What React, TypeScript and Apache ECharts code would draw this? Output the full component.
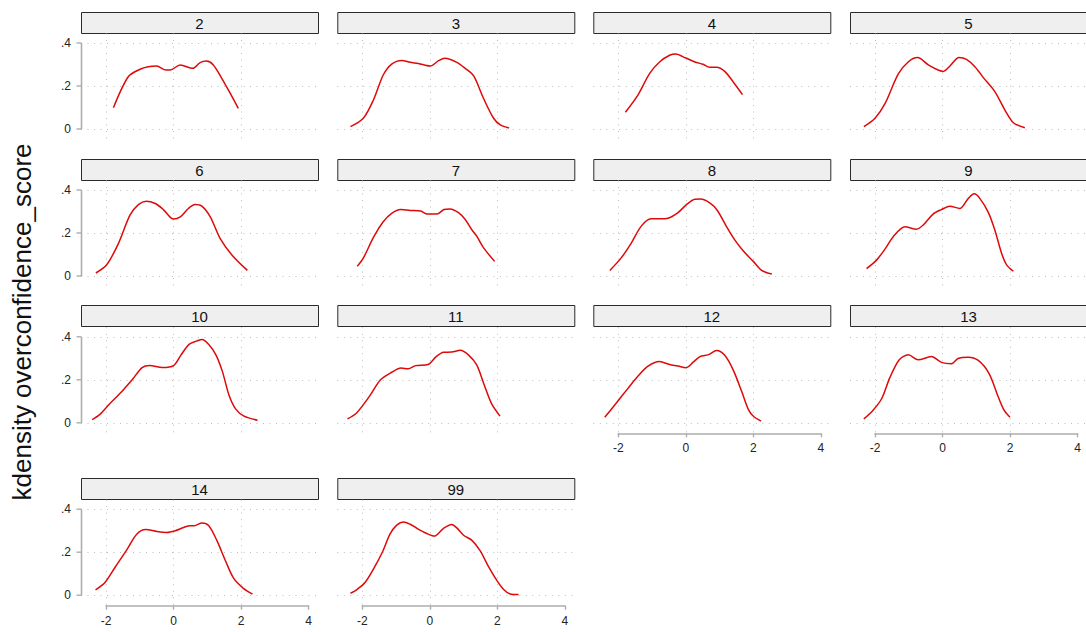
import React, { useEffect, useRef } from "react";
import * as echarts from "echarts";

// Panel labels (by-group values)
const panelLabels = ["2", "3", "4", "5", "6", "7", "8", "9", "10", "11", "12", "13", "14", "99"];

// Axis ticks
const xTicks = [-2, 0, 2, 4];
const yTicks = [0, 0.2, 0.4];

// Kernel density estimates (x = overconfidence_score, y = density)
const p2x = [-1.78, -1.34, -0.99, -0.75, -0.5, -0.22, -0.1, 0.2, 0.57, 0.79, 0.98, 1.18, 1.43, 1.67, 1.92];
const p2y = [0.099, 0.243, 0.278, 0.29, 0.293, 0.274, 0.274, 0.298, 0.282, 0.309, 0.316, 0.298, 0.236, 0.169, 0.096];

const p3x = [-2.35, -1.97, -1.67, -1.38, -1.13, -0.83, -0.58, -0.34, 0.01, 0.26, 0.45, 0.8, 1.05, 1.3, 1.59, 1.89, 2.09, 2.35];
const p3y = [0.011, 0.05, 0.135, 0.251, 0.302, 0.319, 0.31, 0.305, 0.293, 0.318, 0.329, 0.31, 0.282, 0.247, 0.143, 0.05, 0.019, 0.005];

const p4x = [-1.79, -1.42, -1.07, -0.77, -0.48, -0.3, 0.0, 0.27, 0.51, 0.71, 0.91, 1.16, 1.4, 1.68];
const p4y = [0.078, 0.158, 0.259, 0.313, 0.343, 0.349, 0.33, 0.312, 0.301, 0.287, 0.287, 0.267, 0.22, 0.16];

const p5x = [-2.33, -2.0, -1.7, -1.31, -1.01, -0.74, -0.42, -0.18, 0.02, 0.22, 0.49, 0.71, 0.96, 1.21, 1.55, 1.85, 2.1, 2.44];
const p5y = [0.011, 0.05, 0.119, 0.256, 0.313, 0.332, 0.298, 0.278, 0.268, 0.293, 0.333, 0.324, 0.29, 0.239, 0.174, 0.088, 0.029, 0.006];

const p6x = [-2.3, -1.98, -1.63, -1.29, -1.04, -0.81, -0.54, -0.3, 0.0, 0.2, 0.44, 0.64, 0.84, 1.09, 1.38, 1.73, 2.19];
const p6y = [0.014, 0.052, 0.152, 0.283, 0.332, 0.348, 0.337, 0.309, 0.265, 0.275, 0.314, 0.332, 0.325, 0.275, 0.175, 0.098, 0.026];

const p7x = [-2.15, -1.97, -1.67, -1.38, -1.13, -0.86, -0.58, -0.27, -0.07, 0.21, 0.42, 0.6, 0.85, 1.05, 1.25, 1.4, 1.59, 1.92];
const p7y = [0.045, 0.083, 0.18, 0.252, 0.291, 0.309, 0.305, 0.302, 0.288, 0.288, 0.309, 0.312, 0.295, 0.263, 0.214, 0.183, 0.132, 0.068];

const p8x = [-2.25, -1.92, -1.62, -1.32, -1.03, -0.77, -0.53, -0.23, 0.02, 0.27, 0.44, 0.71, 0.93, 1.21, 1.45, 1.7, 2.0, 2.25, 2.55];
const p8y = [0.026, 0.083, 0.152, 0.232, 0.266, 0.266, 0.269, 0.295, 0.332, 0.357, 0.358, 0.34, 0.306, 0.229, 0.168, 0.117, 0.068, 0.026, 0.009];

const p9x = [-2.25, -1.95, -1.7, -1.46, -1.11, -0.77, -0.57, -0.28, -0.03, 0.22, 0.51, 0.76, 0.94, 1.11, 1.35, 1.55, 1.75, 1.9, 2.1];
const p9y = [0.034, 0.075, 0.126, 0.183, 0.229, 0.218, 0.237, 0.288, 0.309, 0.325, 0.314, 0.36, 0.382, 0.36, 0.298, 0.214, 0.106, 0.052, 0.022];

const p10x = [-2.41, -2.19, -1.91, -1.53, -1.2, -0.93, -0.71, -0.33, 0.0, 0.22, 0.46, 0.68, 0.85, 1.04, 1.26, 1.45, 1.64, 1.84, 2.09, 2.49];
const p10y = [0.015, 0.038, 0.085, 0.146, 0.205, 0.257, 0.266, 0.257, 0.266, 0.315, 0.365, 0.38, 0.388, 0.365, 0.315, 0.238, 0.131, 0.065, 0.031, 0.012];

const p11x = [-2.44, -2.17, -1.79, -1.46, -1.13, -0.85, -0.64, -0.42, -0.05, 0.19, 0.41, 0.65, 0.9, 1.15, 1.39, 1.61, 1.83, 2.08];
const p11y = [0.018, 0.046, 0.123, 0.2, 0.235, 0.255, 0.251, 0.266, 0.271, 0.308, 0.328, 0.329, 0.337, 0.315, 0.269, 0.177, 0.089, 0.031];

const p12x = [-2.4, -2.07, -1.72, -1.42, -1.13, -0.78, -0.48, -0.23, 0.0, 0.22, 0.42, 0.67, 0.91, 1.16, 1.41, 1.66, 1.86, 2.01, 2.23];
const p12y = [0.026, 0.09, 0.159, 0.216, 0.262, 0.285, 0.271, 0.264, 0.256, 0.282, 0.308, 0.317, 0.336, 0.313, 0.244, 0.144, 0.06, 0.029, 0.008];

const p13x = [-2.33, -2.05, -1.8, -1.56, -1.28, -1.01, -0.72, -0.33, -0.03, 0.27, 0.46, 0.76, 1.06, 1.38, 1.65, 1.82, 2.0];
const p13y = [0.018, 0.06, 0.113, 0.21, 0.293, 0.316, 0.293, 0.308, 0.281, 0.275, 0.299, 0.305, 0.29, 0.229, 0.121, 0.06, 0.026];

const p14x = [-2.31, -2.03, -1.73, -1.39, -1.09, -0.82, -0.49, -0.2, 0.05, 0.3, 0.49, 0.61, 0.84, 1.04, 1.28, 1.53, 1.78, 2.07, 2.34];
const p14y = [0.025, 0.059, 0.13, 0.21, 0.284, 0.306, 0.296, 0.292, 0.3, 0.315, 0.323, 0.323, 0.336, 0.324, 0.256, 0.164, 0.079, 0.032, 0.005];

const p99x = [-2.35, -2.17, -1.92, -1.63, -1.4, -1.18, -0.98, -0.78, -0.58, -0.37, -0.09, 0.13, 0.4, 0.65, 0.8, 1.0, 1.24, 1.49, 1.74, 1.99, 2.18, 2.38, 2.63];
const p99y = [0.009, 0.025, 0.059, 0.133, 0.202, 0.284, 0.326, 0.341, 0.33, 0.31, 0.287, 0.275, 0.31, 0.329, 0.313, 0.279, 0.256, 0.207, 0.133, 0.068, 0.028, 0.006, 0.003];

const panelX = [p2x, p3x, p4x, p5x, p6x, p7x, p8x, p9x, p10x, p11x, p12x, p13x, p14x, p99x];
const panelY = [p2y, p3y, p4y, p5y, p6y, p7y, p8y, p9y, p10y, p11y, p12y, p13y, p14y, p99y];

const yTitle = "kdensity overconfidence_score";

// Layout (pixels)
const colLeft = [81, 337.3, 593.3, 850];
const rowTop = [11.5, 158.5, 305.3, 477.7];
const PANEL_W = 237;
const HEADER_H = 21;
const PX_PER_X = 33.75; // px per x unit
const X_OFF = 25; // px from panel left to x=-2
const PLOT_TOP = 31.5; // px from header top to y=.4
const PLOT_H = 86; // px from y=.4 to y=0

const FONT = "'Liberation Sans', Arial, Helvetica, sans-serif";
const GRID_COLOR = "#bdbdbd";
const AXIS_COLOR = "#adadad";

export default function App() {
  const ref = useRef<HTMLDivElement>(null);

  useEffect(() => {
    if (!ref.current) return;
    const chart = echarts.init(ref.current, null, { renderer: "svg" });

    const grids: any[] = [];
    const xAxes: any[] = [];
    const yAxes: any[] = [];
    const series: any[] = [];
    const graphics: any[] = [];
    const gbW = 235;
    const xMinB = -2 - X_OFF / PX_PER_X;
    const xMaxB = -2 + (gbW - X_OFF) / PX_PER_X;
    const yMax = yTicks[yTicks.length - 1];

    const dotted = { color: GRID_COLOR, width: 1, type: [1, 5.5] };

    panelLabels.forEach((label, i) => {
      const r = Math.floor(i / 4);
      const c = i % 4;
      const L = colLeft[c];
      const T = rowTop[r];
      const isBottom = i + 4 >= panelLabels.length;
      const isLeft = c === 0;

      // Grid A (index 2i): vertical gridlines + x axis
      grids.push({ left: L + X_OFF, top: T + 22, width: PX_PER_X * 6, height: 106, containLabel: false });
      xAxes.push({
        type: "value",
        gridIndex: 2 * i,
        min: xTicks[0],
        max: xTicks[xTicks.length - 1],
        interval: 2,
        position: "bottom",
        axisLine: { show: isBottom, onZero: false, lineStyle: { color: AXIS_COLOR, width: 1.6 } },
        axisTick: { show: isBottom, length: 4, lineStyle: { color: AXIS_COLOR, width: 1.4 } },
        axisLabel: {
          show: isBottom,
          margin: 9,
          fontSize: 12,
          color: "#222",
          fontFamily: FONT,
          formatter: (v: number) => String(v),
        },
        splitLine: { show: true, showMaxLine: false, lineStyle: dotted },
      });
      yAxes.push({ type: "value", gridIndex: 2 * i, min: 0, max: 1, show: false });

      // Grid B (index 2i+1): horizontal gridlines + y labels + density curve
      grids.push({ left: L, top: T + PLOT_TOP, width: gbW, height: PLOT_H, containLabel: false });
      xAxes.push({ type: "value", gridIndex: 2 * i + 1, min: xMinB, max: xMaxB, show: false });
      yAxes.push({
        type: "value",
        gridIndex: 2 * i + 1,
        min: yTicks[0],
        max: yMax,
        interval: 0.2,
        position: "left",
        axisLine: { show: false, onZero: false },
        axisTick: { show: false },
        axisLabel: {
          show: isLeft,
          margin: 10,
          fontSize: 12,
          color: "#222",
          fontFamily: FONT,
          formatter: (v: number) => (v === 0 ? "0" : v.toFixed(1).replace(/^0/, "")),
        },
        splitLine: { show: true, lineStyle: dotted },
      });

      series.push({
        type: "line",
        xAxisIndex: 2 * i + 1,
        yAxisIndex: 2 * i + 1,
        data: panelX[i].map((x, k) => [x, panelY[i][k]]),
        showSymbol: false,
        symbol: "none",
        smooth: 0.3,
        clip: false,
        z: 5,
        lineStyle: { color: "#dd0a0a", width: 1.5 },
      });

      // Header
      graphics.push({
        type: "rect",
        shape: { x: L + 0.5, y: Math.round(T) + 0.5, width: PANEL_W, height: HEADER_H },
        style: { fill: "#efefef", stroke: "#2a2a2a", lineWidth: 1 },
      });
      graphics.push({
        type: "text",
        x: L + PANEL_W / 2,
        y: T + HEADER_H / 2 + 1,
        style: {
          text: label,
          fontSize: 15,
          fontFamily: FONT,
          fill: "#111",
          align: "center",
          verticalAlign: "middle",
        },
      });

      // Y axis line + outward ticks on the first column (left edge of grid B)
      if (isLeft) {
        const ax = Math.round(L) + 0.5;
        const yTop = T + PLOT_TOP;
        const yBot = T + PLOT_TOP + PLOT_H;
        graphics.push({
          type: "line",
          z: 100,
          shape: { x1: ax, y1: yTop, x2: ax, y2: yBot },
          style: { stroke: AXIS_COLOR, lineWidth: 1.6 },
        });
        yTicks.forEach((v) => {
          const ty = yBot - (v / yMax) * PLOT_H;
          graphics.push({
            type: "line",
            z: 100,
            shape: { x1: ax - 5, y1: ty, x2: ax, y2: ty },
            style: { stroke: AXIS_COLOR, lineWidth: 1.4 },
          });
        });
      }
    });

    graphics.push({
      type: "text",
      x: 22,
      y: 322,
      rotation: Math.PI / 2,
      style: {
        text: yTitle,
        fontSize: 26,
        fontFamily: FONT,
        fill: "#111",
        align: "center",
        verticalAlign: "middle",
      },
    });

    chart.setOption({
      animation: false,
      backgroundColor: "#ffffff",
      grid: grids,
      xAxis: xAxes,
      yAxis: yAxes,
      series,
      graphic: graphics,
    });

    return () => chart.dispose();
  }, []);

  return (
    <div
      ref={ref}
      style={{ position: "absolute", left: 0, top: 0, width: 1086, height: 632, background: "#fff" }}
    />
  );
}
